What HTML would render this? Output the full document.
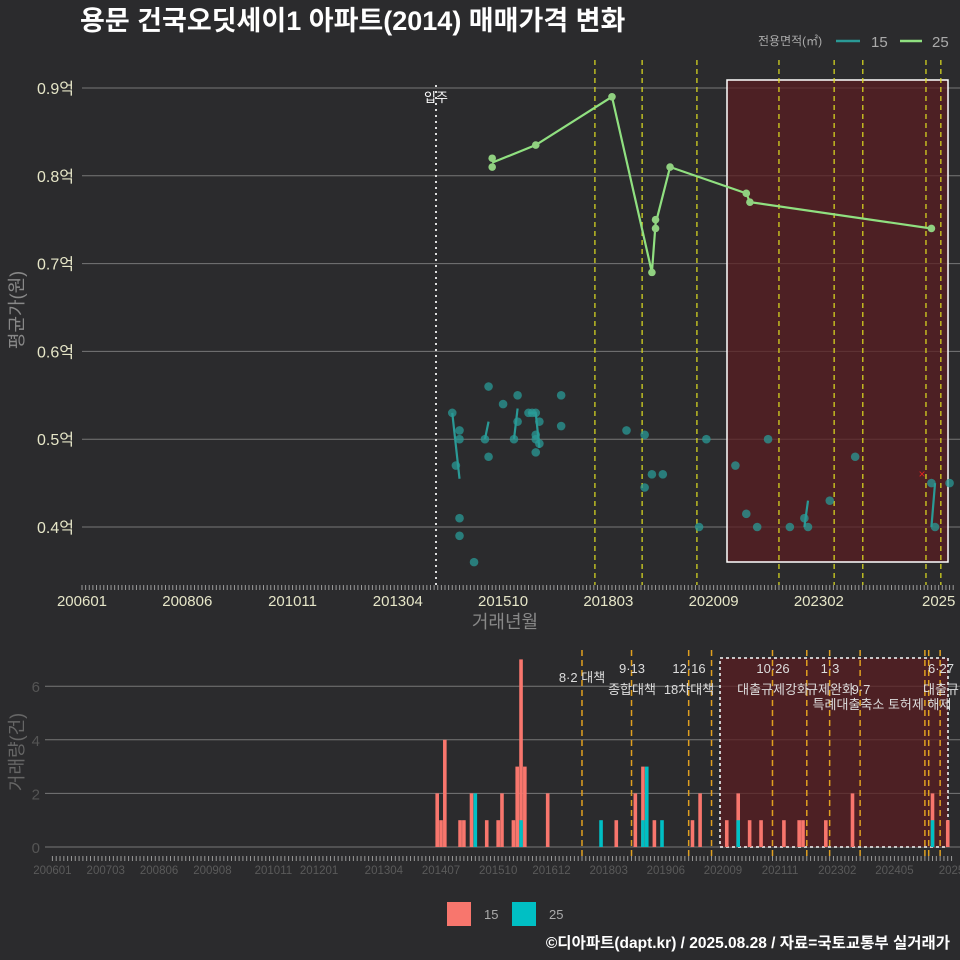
<!DOCTYPE html>
<html><head><meta charset="utf-8"><style>
body{margin:0;background:#2b2b2d;}
svg{display:block;font-family:"Liberation Sans","Noto Sans CJK KR",sans-serif;}
</style></head><body>
<svg id="c" width="960" height="960" viewBox="0 0 960 960">
<rect width="960" height="960" fill="#2b2b2d"/>
<text x="80" y="30" fill="#fff" font-size="27" font-weight="bold">용문 건국오딧세이1 아파트(2014) 매매가격 변화</text>
<g>
<text x="758" y="45" fill="#aaa" font-size="12">전용면적(㎡)</text>
<line x1="836" y1="41" x2="860" y2="41" stroke="#2a9a96" stroke-width="2.5"/>
<text x="871" y="47" fill="#aaa" font-size="15">15</text>
<line x1="900" y1="41" x2="922" y2="41" stroke="#90e080" stroke-width="2.5"/>
<text x="932" y="47" fill="#aaa" font-size="15">25</text>
</g>
<text transform="translate(23,310) rotate(-90)" text-anchor="middle" fill="#888" font-size="18">평균가(원)</text>
<text x="505" y="628" text-anchor="middle" fill="#888" font-size="18">거래년월</text>
<text transform="translate(23,752) rotate(-90)" text-anchor="middle" fill="#666" font-size="18">거래량(건)</text>
<g>
<rect x="447" y="902" width="24" height="24" fill="#f8766d"/>
<text x="484" y="919" fill="#aaa" font-size="13">15</text>
<rect x="512" y="902" width="24" height="24" fill="#00bfc4"/>
<text x="549" y="919" fill="#aaa" font-size="13">25</text>
</g>
<text x="950" y="948" text-anchor="end" fill="#fff" font-size="15.5" font-weight="bold">©디아파트(dapt.kr) / 2025.08.28 / 자료=국토교통부 실거래가</text>
<g id="g"></g>
</svg>
<script>
// month index from 200601
const yTicks=[0.4,0.5,0.6,0.7,0.8,0.9];
const yTickLabels=["0.4억","0.5억","0.6억","0.7억","0.8억","0.9억"];
const topXTickMonths=[0,29,58,87,116,145,174,203,236];
const topXTickLabels=["200601","200806","201011","201304","201510","201803","202009","202302","2025"];
const botXTickMonths=[0,14,28,42,58,70,87,102,117,131,146,161,176,191,206,221,236];
const botXTickLabels=["200601","200703","200806","200908","201011","201201","201304","201407","201510","201612","201803","201906","202009","202111","202302","202405","2025"];
const pts15M=[102,103,104,104,104,104,108,111,112,112,116,119,120,120,123,124,125,125,125,125,126,126,132,132,150,155,155,157,160,170,172,180,183,186,189,195,199,200,206,213,234,235,239];
const pts15V=[0.53,0.47,0.51,0.50,0.41,0.39,0.36,0.50,0.56,0.48,0.54,0.50,0.55,0.52,0.53,0.53,0.53,0.505,0.50,0.485,0.495,0.52,0.55,0.515,0.51,0.505,0.445,0.46,0.46,0.40,0.50,0.47,0.415,0.40,0.50,0.40,0.41,0.40,0.43,0.48,0.45,0.40,0.45];
const segs15=[[[102,0.53],[104,0.455]],[[111,0.50],[112,0.52]],[[119,0.50],[120,0.535]],[[123,0.53],[125,0.53],[126,0.49]],[[199,0.40],[200,0.43]],[[234,0.40],[235,0.45]]];
const pts25M=[113,113,125,146,157,158,158,162,183,184,234];
const pts25V=[0.82,0.81,0.835,0.89,0.69,0.75,0.74,0.81,0.78,0.77,0.74];
const line25M=[113,125,146,157,158,162,183,184,234];
const line25V=[0.815,0.835,0.89,0.69,0.745,0.81,0.78,0.77,0.74];
const topEvents=[141.3,154.3,169.4,192,207.2,215.1,232.5,236.6];
const botEvents=[139,152,167,173,189,198,204,212,229,230,233];
const bar15M=[101,102,103,107,108,110,114,117,118,121,122,123,124,130,148,153,155,158,168,170,177,180,183,186,192,196,197,203,210,231,235];
const bar15V=[2,1,4,1,1,2,1,1,2,1,3,7,3,2,1,2,3,1,1,2,1,2,1,1,1,1,1,1,2,2,1];
const bar25M=[111,123,144,155,156,160,180,231];
const bar25V=[2,1,1,1,3,1,1,1];
const botYTicks=[0,2,4,6];

const NS="http://www.w3.org/2000/svg",G=document.getElementById('g');
function mk(t,a,p){const e=document.createElementNS(NS,t);for(const k in a)e.setAttribute(k,a[k]);(p||G).appendChild(e);return e;}
const tx=m=>82+3.63*m, ty=v=>527-(v-0.4)*878;
const bx=m=>52.4+3.81*m, by=v=>847-v*26.8;
yTicks.forEach((v,i)=>{
 let l=mk('line',{x1:82,x2:960,y1:ty(v),y2:ty(v),stroke:'#777','stroke-width':1});
 
 let t=mk('text',{x:74,y:ty(v)+6,'text-anchor':'end',fill:'#e6e6c8','font-size':16});t.textContent=yTickLabels[i];
 
});
let r=mk('rect',{x:727,y:80,width:221,height:482,fill:'#5a1e22','fill-opacity':0.75,stroke:'#fff','stroke-width':1.5});

let mv=mk('line',{x1:436,x2:436,y1:85,y2:585,stroke:'#ddd','stroke-width':2,'stroke-dasharray':'2 4'});

let mt=mk('text',{x:436,y:102,'text-anchor':'middle',fill:'#fff','font-size':13});mt.textContent='입주';

topEvents.forEach(m=>{let l=mk('line',{x1:tx(m),x2:tx(m),y1:60,y2:585,stroke:'#e0e020','stroke-width':1.2,'stroke-dasharray':'5 4'});
 });
for(let m=0;m<=240;m++){let l=mk('line',{x1:tx(m),x2:tx(m),y1:585,y2:590,stroke:'#999','stroke-width':1});
 }
topXTickMonths.forEach((m,i)=>{let t=mk('text',{x:tx(m),y:606,'text-anchor':'middle',fill:'#e6e6c8','font-size':15});t.textContent=topXTickLabels[i];
 });
segs15.forEach(s=>{let p=mk('polyline',{points:s.map(d=>tx(d[0])+','+ty(d[1])).join(' '),fill:'none',stroke:'#2a9a96','stroke-width':2.2});
 });
pts15M.forEach((m,i)=>{let c=mk('circle',{cx:tx(m),cy:ty(pts15V[i]),r:4.3,fill:'#2a9a96','fill-opacity':0.75});
 });
let p25=mk('polyline',{points:line25M.map((m,i)=>tx(m)+','+ty(line25V[i])).join(' '),fill:'none',stroke:'#90e080','stroke-width':2.2});

pts25M.forEach((m,i)=>{let c=mk('circle',{cx:tx(m),cy:ty(pts25V[i]),r:3.8,fill:'#90d080'});
 });
let xm=mk('text',{x:922,y:478,'text-anchor':'middle',fill:'#e02020','font-size':12});xm.textContent='×';


botYTicks.forEach(v=>{let l=mk('line',{x1:45,x2:960,y1:by(v),y2:by(v),stroke:'#777','stroke-width':1});
 
 let t=mk('text',{x:40,y:by(v)+6,'text-anchor':'end',fill:'#555','font-size':15});t.textContent=v;
 });
let r2=mk('rect',{x:720,y:658,width:228,height:189,fill:'#5a1e22','fill-opacity':0.75,stroke:'#ddd','stroke-width':1.8,'stroke-dasharray':'3 3'});

bar15M.forEach((m,i)=>{let b=mk('rect',{x:bx(m)-1.8,y:by(bar15V[i]),width:3.6,height:bar15V[i]*26.8,fill:'#f8766d'});
 });
bar25M.forEach((m,i)=>{let b=mk('rect',{x:bx(m)-1.8,y:by(bar25V[i]),width:3.6,height:bar25V[i]*26.8,fill:'#00bfc4'});
 });
botEvents.forEach(m=>{let l=mk('line',{x1:bx(m),x2:bx(m),y1:650,y2:860,stroke:'#e0a020','stroke-width':1.5,'stroke-dasharray':'6 4'});
 });
const ann=[["8·2 대책",582,682],["9·13",632,673],["종합대책",632,694],["12·16",689,673],["18차대책",689,694],["10·26",773,673],["대출규제강화",773,694],["1·3",830,673],["규제완화",830,694],["9·7",861,694],["특례대출축소 토허제 해제",882,709],["6·27",941,673],["대출규",941,694]];
ann.forEach(a=>{let t=mk('text',{x:a[1],y:a[2],'text-anchor':'middle',fill:'#ddd','font-size':13});t.textContent=a[0];
 });
for(let m=0;m<=236;m++){let l=mk('line',{x1:bx(m),x2:bx(m),y1:856,y2:861,stroke:'#999','stroke-width':1});
 }
botXTickMonths.forEach((m,i)=>{let t=mk('text',{x:bx(m),y:874,'text-anchor':'middle',fill:'#5a5a5a','font-size':11.5});t.textContent=botXTickLabels[i];
 });
</script>
</body></html>
